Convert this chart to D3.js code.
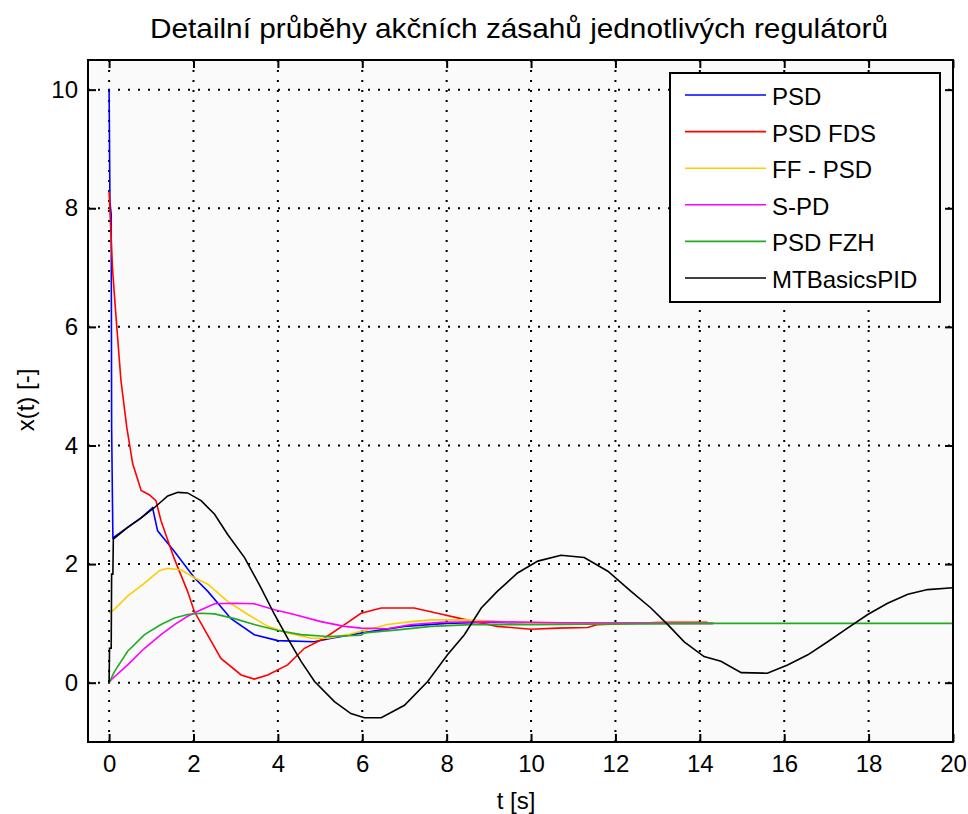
<!DOCTYPE html>
<html>
<head>
<meta charset="utf-8">
<script src="https://cdn.jsdelivr.net/npm/d3@7"></script>
<style>
  body { margin: 0; background: #fff; }
  text { font-family: "Liberation Sans", Arial, sans-serif; fill: #000; }
</style>
</head>
<body>
<svg id="chart" width="968" height="814"></svg>
<script>
// data: [t, x(t)]
const psd = [[0,10],[0.02,8.1],[0.05,7.9],[0.06,4.3],[0.09,2.44],[0.44,2.62],[0.76,2.78],[1.03,2.95],
  [1.15,2.56],[1.54,2.22],[2.02,1.77],[2.34,1.54],[2.89,1.08],[3.44,0.81],[4.0,0.71],[4.86,0.69],
  [5.33,0.76],[6.0,0.84],[7.0,0.95],[8.0,1.0],[9.0,1.02],[9.7,1.01],[11,1.0],[14.3,1.0]];
const psdFds = [[0,8.28],[0.03,7.8],[0.08,7.0],[0.15,6.3],[0.28,5.1],[0.42,4.3],[0.56,3.69],[0.76,3.24],
  [0.95,3.17],[1.11,3.07],[1.23,2.73],[1.54,2.1],[1.86,1.54],[2.02,1.2],[2.26,0.9],[2.65,0.41],
  [3.13,0.13],[3.44,0.06],[3.76,0.13],[4.23,0.3],[4.63,0.58],[5.1,0.75],[5.58,0.98],[5.97,1.17],
  [6.45,1.26],[7.23,1.26],[7.78,1.17],[8.34,1.08],[8.65,1.03],[9.2,0.95],[10,0.9],[10.63,0.92],
  [11.34,0.93],[11.58,0.98],[13.15,1.02],[14.18,1.02]];
const ffPsd = [[0,1.17],[0.13,1.24],[0.44,1.46],[0.84,1.68],[1.19,1.89],[1.39,1.93],[1.71,1.9],
  [2.02,1.77],[2.34,1.66],[2.81,1.37],[3.29,1.15],[3.76,0.95],[4.23,0.84],[4.79,0.75],[5.18,0.75],
  [5.65,0.81],[6.21,0.91],[6.6,0.98],[7.16,1.03],[7.63,1.06],[8.42,1.06],[9.05,1.04],[10,1.0],[14.3,1.0]];
const sPd = [[0,0],[0.05,0.05],[0.44,0.3],[0.84,0.58],[1.23,0.81],[1.55,0.98],[1.86,1.12],[2.18,1.23],
  [2.5,1.33],[2.97,1.34],[3.44,1.33],[3.92,1.23],[4.39,1.15],[5.02,1.03],[5.58,0.95],[5.97,0.92],
  [6.6,0.91],[7.16,0.98],[7.87,1.02],[9.05,1.03],[10.7,1.01],[14.33,1.0]];
const psdFzh = [[0,0],[0.13,0.19],[0.44,0.53],[0.84,0.81],[1.23,0.98],[1.55,1.09],[1.86,1.15],[2.18,1.17],
  [2.5,1.16],[2.97,1.08],[3.44,0.98],[4.0,0.88],[4.55,0.81],[5.18,0.78],[5.97,0.8],[6.05,0.84],
  [6.84,0.89],[7.63,0.95],[8.58,0.98],[10,0.98],[12,0.99],[14.2,1.0],[20,1.0]];
const mtBasics = [[0,0],[0.01,0.58],[0.05,0.58],[0.06,1.83],[0.09,1.83],[0.1,2.42],[0.44,2.62],
  [0.76,2.78],[1.07,2.95],[1.39,3.15],[1.63,3.21],[1.86,3.2],[2.18,3.07],[2.5,2.84],[2.81,2.5],
  [3.21,2.11],[3.6,1.6],[3.92,1.15],[4.23,0.75],[4.55,0.36],[4.87,0.02],[5.34,-0.32],[5.73,-0.52],
  [6.05,-0.59],[6.45,-0.59],[7.0,-0.38],[7.55,0.02],[8.02,0.47],[8.42,0.81],[8.82,1.26],[9.2,1.54],
  [9.68,1.85],[10.16,2.05],[10.71,2.15],[11.26,2.11],[11.82,1.88],[12.37,1.54],[12.84,1.26],
  [13.24,0.98],[13.63,0.69],[14.1,0.44],[14.5,0.36],[14.98,0.17],[15.6,0.16],[16.08,0.3],
  [16.56,0.47],[17.03,0.69],[17.5,0.92],[17.98,1.15],[18.45,1.34],[18.93,1.49],[19.4,1.57],[20,1.6]];

const seriesNames = ['PSD', 'PSD FDS', 'FF - PSD', 'S-PD', 'PSD FZH', 'MTBasicsPID'];
const seriesColors = ['#0000ff', '#ff0000', '#ffcc00', '#ff00ff', '#22aa22', '#000000'];
const xTicks = [0, 2, 4, 6, 8, 10, 12, 14, 16, 18, 20];
const yTicks = [0, 2, 4, 6, 8, 10];

const titleText = 'Detailní průběhy akčních zásahů jednotlivých regulátorů';

let svg = d3.select('#chart');
let m = {left: 88, right: 953, top: 60, bottom: 742};

let x = d3.scaleLinear().domain([-0.5, 20]).range([m.left, m.right]);
let y = d3.scaleLinear().domain([-1, 10.5]).range([m.bottom, m.top]);

/*plot background*/
svg.append('rect')
  .attr('x', m.left).attr('y', m.top)
  .attr('width', m.right - m.left).attr('height', m.bottom - m.top)
  .attr('fill', '#fafafa');

/*grid*/
let grid = svg.append('g').attr('stroke', '#000').attr('stroke-width', 2)
  .attr('stroke-dasharray', '2,8');
grid.selectAll('.gx').data(xTicks).enter().append('line')
  .attr('x1', d => x(d)).attr('x2', d => x(d))
  .attr('y1', m.bottom).attr('y2', m.top);
grid.selectAll('.gy').data(yTicks).enter().append('line')
  .attr('y1', d => y(d)).attr('y2', d => y(d))
  .attr('x1', m.left).attr('x2', m.right);

/*curves*/
let line = d3.line().x(d => x(d[0])).y(d => y(d[1]));
let allSeries = [psd, psdFds, ffPsd, sPd, psdFzh, mtBasics];
svg.append('g').selectAll('path').data(allSeries).enter().append('path')
  .attr('d', line)
  .attr('fill', 'none')
  .attr('stroke', (d, i) => seriesColors[i])
  .attr('stroke-width', 1.6);

/*axes - ticks inside, on all four sides*/
let tickLen = 8;
let axB = svg.append('g').attr('transform', `translate(0,${m.bottom})`)
  .call(d3.axisBottom(x).tickValues(xTicks).tickSizeInner(-tickLen).tickSizeOuter(0).tickPadding(13));
let axT = svg.append('g').attr('transform', `translate(0,${m.top})`)
  .call(d3.axisTop(x).tickValues(xTicks).tickSizeInner(-tickLen).tickSizeOuter(0).tickFormat(''));
let axL = svg.append('g').attr('transform', `translate(${m.left},0)`)
  .call(d3.axisLeft(y).tickValues(yTicks).tickSizeInner(-tickLen).tickSizeOuter(0).tickPadding(10));
let axR = svg.append('g').attr('transform', `translate(${m.right},0)`)
  .call(d3.axisRight(y).tickValues(yTicks).tickSizeInner(-tickLen).tickSizeOuter(0).tickFormat(''));
[axB, axT, axL, axR].forEach(a => {
  a.select('.domain').remove();
  a.selectAll('line').attr('stroke', '#000').attr('stroke-width', 2);
  a.selectAll('text').style('font-size', '24px').style('font-family', '"Liberation Sans", Arial, sans-serif');
});

svg.append('rect')
  .attr('x', m.left).attr('y', m.top)
  .attr('width', m.right - m.left).attr('height', m.bottom - m.top)
  .attr('fill', 'none').attr('stroke', '#000').attr('stroke-width', 2);

/*title and labels*/
svg.append('text').attr('x', 150).attr('y', 38)
  .attr('textLength', 738).attr('lengthAdjust', 'spacingAndGlyphs')
  .style('font-size', '28px').text(titleText);
svg.append('text').attr('x', 516).attr('y', 809).attr('text-anchor', 'middle')
  .style('font-size', '24px').text('t [s]');
svg.append('text').attr('transform', 'translate(34,400) rotate(-90)').attr('text-anchor', 'middle')
  .style('font-size', '24px').text('x(t) [-]');

/*legend*/
let lg = svg.append('g');
lg.append('rect').attr('x', 670).attr('y', 73).attr('width', 270).attr('height', 229)
  .attr('fill', '#fff').attr('stroke', '#000').attr('stroke-width', 2);
let item = lg.selectAll('.item').data(seriesNames).enter().append('g')
  .attr('transform', (d, i) => `translate(0,${95 + i * 36.6})`);
item.append('line').attr('x1', 685).attr('x2', 766).attr('y1', 0).attr('y2', 0)
  .attr('stroke', (d, i) => seriesColors[i]).attr('stroke-width', 1.6);
item.append('text').attr('x', 772).attr('y', 10).style('font-size', '24px').text(d => d);
</script>
</body>
</html>
